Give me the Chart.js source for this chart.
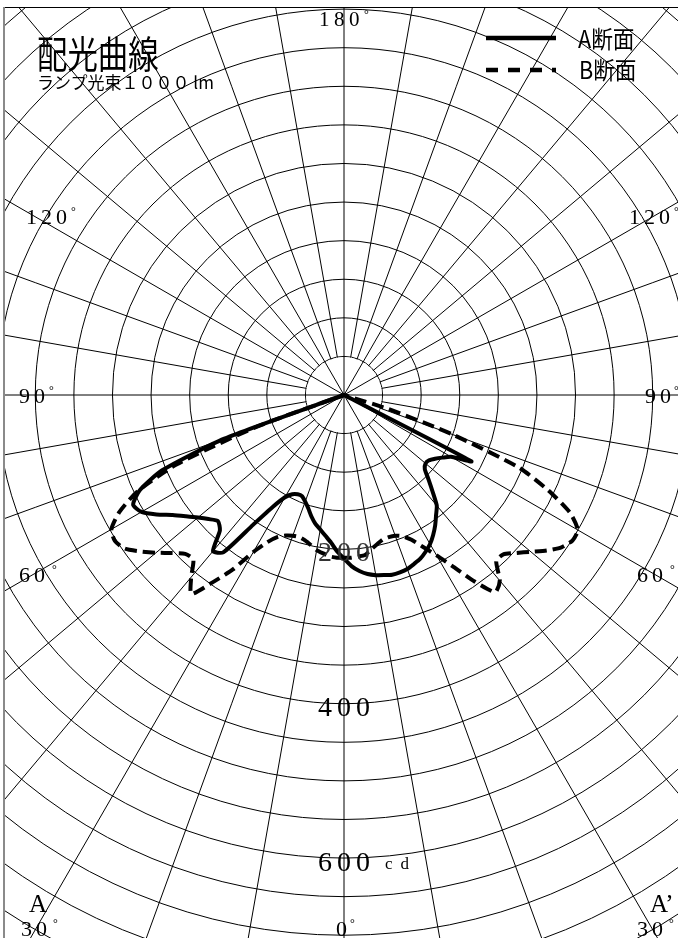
<!DOCTYPE html>
<html>
<head>
<meta charset="utf-8">
<script src="https://cdn.jsdelivr.net/npm/chart.js@4.4.1/dist/chart.umd.min.js"></script>
<style>
body { margin: 0; background: #fff; }
#page { position: relative; width: 678px; height: 938px; overflow: hidden; background: #fff; }
#plot { position: absolute; left: 5px; top: 8px; width: 673px; height: 930px; overflow: hidden; }
#polar { position: absolute; left: -317px; top: -269px; }
.frame-top { position: absolute; left: 4px; top: 7px; width: 674px; height: 1px; background: #000; }
.frame-left { position: absolute; left: 3px; top: 7px; width: 2px; height: 931px; background: #8a8a8a; }
.lbl { position: absolute; font-family: "Liberation Serif", serif; color: #000; white-space: nowrap; line-height: 1; }
.deg { position: absolute; font-family: "Liberation Serif", serif; font-size: 12px; line-height: 1; }
.jp { position: absolute; font-family: "Noto Sans CJK JP", sans-serif; color: #000; white-space: nowrap; line-height: 1; transform-origin: left center; }
</style>
</head>
<body>
<div id="page">
  <div id="plot"><canvas id="polar" width="1312" height="1312"></canvas></div>
  <div class="frame-top"></div>
  <div class="frame-left"></div>

  <div class="jp" style="left:37px;top:33px;font-size:38px;transform:scaleX(0.8);">配光曲線</div>
  <div class="jp" style="left:37px;top:73px;font-size:17px;">ランプ光束１０００ lm</div>

  <svg style="position:absolute;left:480px;top:28px;" width="90" height="50">
    <line x1="6" y1="10" x2="76" y2="10" stroke="#000" stroke-width="4.5"/>
    <line x1="6" y1="42" x2="76" y2="42" stroke="#000" stroke-width="4.5" stroke-dasharray="12 10"/>
  </svg>
  <div class="jp" style="left:578px;top:26px;font-size:24px;transform:scaleX(0.9);">A断面</div>
  <div class="jp" style="left:579px;top:57px;font-size:24px;transform:scaleX(0.9);">B断面</div>

  <div class="lbl" style="left:319px;top:9px;font-size:21px;letter-spacing:4.5px;">180</div>
  <div class="deg" style="left:364px;top:8px;">°</div>

  <div class="lbl" style="left:26px;top:206px;font-size:22px;letter-spacing:4px;">120</div>
  <div class="deg" style="left:71px;top:205px;">°</div>
  <div class="lbl" style="left:629px;top:206px;font-size:22px;letter-spacing:4px;">120</div>
  <div class="deg" style="left:674px;top:205px;">°</div>

  <div class="lbl" style="left:19px;top:385px;font-size:22px;letter-spacing:4px;">90</div>
  <div class="deg" style="left:49px;top:384px;">°</div>
  <div class="lbl" style="left:645px;top:385px;font-size:22px;letter-spacing:4px;">90</div>
  <div class="deg" style="left:674px;top:384px;">°</div>

  <div class="lbl" style="left:19px;top:564px;font-size:22px;letter-spacing:4px;">60</div>
  <div class="deg" style="left:52px;top:563px;">°</div>
  <div class="lbl" style="left:637px;top:564px;font-size:22px;letter-spacing:4px;">60</div>
  <div class="deg" style="left:670px;top:563px;">°</div>

  <div class="lbl" style="left:29px;top:891px;font-size:25px;">A</div>
  <div class="lbl" style="left:650px;top:891px;font-size:25px;">A’</div>
  <div class="lbl" style="left:21px;top:918px;font-size:22px;letter-spacing:4px;">30</div>
  <div class="deg" style="left:53px;top:917px;">°</div>
  <div class="lbl" style="left:637px;top:918px;font-size:22px;letter-spacing:4px;">30</div>
  <div class="deg" style="left:669px;top:917px;">°</div>
  <div class="lbl" style="left:336px;top:918px;font-size:22px;">0</div>
  <div class="deg" style="left:350px;top:917px;">°</div>

  <div class="lbl" style="left:318px;top:538px;font-size:28px;letter-spacing:5px;color:#333;">200</div>
  <div class="lbl" style="left:318px;top:693px;font-size:28px;letter-spacing:5px;">400</div>
  <div class="lbl" style="left:318px;top:848px;font-size:28px;letter-spacing:5px;">600</div>
  <div class="lbl" style="left:385px;top:855px;font-size:17px;letter-spacing:8px;">cd</div>
</div>

<script>
// angles from nadir, 2.5 deg steps, one half of the diagram
var halfAngles = [
  0, 2.5, 5, 7.5, 10, 12.5, 15, 17.5, 20, 22.5, 25, 27.5, 30, 32.5, 35, 37.5,
  40, 42.5, 45, 47.5, 50, 52.5, 55, 57.5, 60, 62.5, 65, 67.5, 70, 72.5, 75, 77.5,
  80, 82.5, 85, 87.5, 90, 92.5, 95, 97.5, 100, 102.5, 105, 107.5, 110, 112.5, 115, 117.5,
  120, 122.5, 125, 127.5, 130, 132.5, 135, 137.5, 140, 142.5, 145, 147.5, 150, 152.5, 155, 157.5,
  160, 162.5, 165, 167.5, 170, 172.5, 175, 177.5, 180
];

// A断面 (cd), left half (A side) and right half (A' side)
var aLeft = [
  212, 203, 192, 184, 177, 171, 163, 154, 147, 142, 142, 145, 153, 172, 205, 257,
  264, 238, 231, 238, 247, 258, 271, 288, 303, 308, 292, 255, 165, 0, 0, 0,
  0, 0, 0, 0, 0, 0, 0, 0, 0, 0, 0, 0, 0, 0, 0, 0,
  0, 0, 0, 0, 0, 0, 0, 0, 0, 0, 0, 0, 0, 0, 0, 0,
  0, 0, 0, 0, 0, 0, 0, 0, 0
];
var aRight = [
  213, 222, 229, 234, 237, 239, 241, 241, 240, 237, 234, 229, 223, 215, 206, 196,
  187, 170, 155, 142, 138, 139, 144, 151, 160, 186, 0, 0, 0, 0, 0, 0,
  0, 0, 0, 0, 0, 0, 0, 0, 0, 0, 0, 0, 0, 0, 0, 0,
  0, 0, 0, 0, 0, 0, 0, 0, 0, 0, 0, 0, 0, 0, 0, 0,
  0, 0, 0, 0, 0, 0, 0, 0, 0
];

// B断面 (cd)
var bLeft = [
  211, 211, 210, 207, 204, 199, 195, 193, 194, 197, 203, 215, 235, 268, 296, 325,
  308, 289, 291, 303, 318, 333, 347, 352, 348, 328, 295, 235, 120, 0, 0, 0,
  0, 0, 0, 0, 0, 0, 0, 0, 0, 0, 0, 0, 0, 0, 0, 0,
  0, 0, 0, 0, 0, 0, 0, 0, 0, 0, 0, 0, 0, 0, 0, 0,
  0, 0, 0, 0, 0, 0, 0, 0, 0
];
var bRight = [
  211, 211, 210, 209, 203, 198, 194, 193, 194, 198, 207, 222, 240, 264, 295, 322,
  314, 292, 292, 303, 316, 331, 344, 351, 350, 330, 292, 245, 150, 60, 0, 0,
  0, 0, 0, 0, 0, 0, 0, 0, 0, 0, 0, 0, 0, 0, 0, 0,
  0, 0, 0, 0, 0, 0, 0, 0, 0, 0, 0, 0, 0, 0, 0, 0,
  0, 0, 0, 0, 0, 0, 0, 0, 0
];

var ringStep = 50;
var ringMax = 850;

// radar goes clockwise from the bottom: left half 0..180, then right half 180..0
function fullCircle(left, right) {
  var out = left.slice(0, left.length);
  for (var i = right.length - 2; i >= 1; i--) out.push(right[i]);
  return out;
}
var labels = fullCircle(halfAngles, halfAngles);

// inside the first ring only every 30 deg line is drawn
var innerRing = {
  id: "innerRing",
  beforeDatasetsDraw: function (chart) {
    var r = chart.scales.r;
    var ctx = chart.ctx;
    var rad = r.getDistanceFromCenterForValue(ringStep);
    ctx.save();
    ctx.fillStyle = "#fff";
    ctx.beginPath();
    ctx.arc(r.xCenter, r.yCenter, rad - 0.6, 0, Math.PI * 2);
    ctx.fill();
    ctx.strokeStyle = "#000";
    ctx.lineWidth = 1;
    for (var i = 0; i < labels.length; i += 12) {
      var p = r.getPointPositionForValue(i, ringStep);
      ctx.beginPath();
      ctx.moveTo(r.xCenter, r.yCenter);
      ctx.lineTo(p.x, p.y);
      ctx.stroke();
    }
    ctx.restore();
  }
};

new Chart(document.getElementById("polar"), {
  type: "radar",
  data: {
    labels: labels,
    datasets: [
      {
        label: "A断面",
        data: fullCircle(aLeft, aRight),
        borderColor: "#000",
        borderWidth: 4,
        backgroundColor: "transparent",
        fill: false,
        pointRadius: 0,
        tension: 0.2
      },
      {
        label: "B断面",
        data: fullCircle(bLeft, bRight),
        borderColor: "#000",
        borderWidth: 4,
        borderDash: [12, 6],
        backgroundColor: "transparent",
        fill: false,
        pointRadius: 0,
        tension: 0.2
      }
    ]
  },
  options: {
    responsive: false,
    animation: false,
    devicePixelRatio: 1,
    layout: { padding: 0 },
    plugins: { legend: { display: false }, tooltip: { enabled: false } },
    scales: {
      r: {
        min: 0,
        max: ringMax,
        startAngle: 180,
        ticks: { display: false, stepSize: ringStep },
        pointLabels: { display: false },
        grid: { circular: true, color: "#000", lineWidth: 1 },
        angleLines: {
          color: "#000",
          lineWidth: function (ctx) { return ctx.index % 4 === 0 ? 1 : 0; }
        }
      }
    }
  },
  plugins: [innerRing]
});
</script>
</body>
</html>
